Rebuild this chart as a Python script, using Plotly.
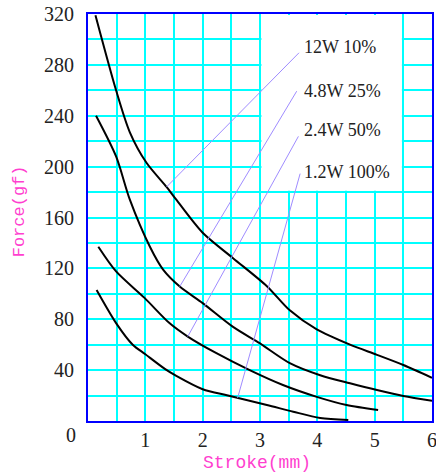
import numpy as np
import plotly.graph_objects as go

# ---- data ----
series_names = ["12W 10%", "4.8W 25%", "2.4W 50%", "1.2W 100%"]

x_12w = [0.13, 0.49, 0.73, 1.02, 1.37, 1.54, 2.0, 2.53, 3.12, 3.52, 3.99, 4.57, 5.04, 5.5, 6.0]
y_12w = [319, 260, 227, 203, 184, 174, 148, 128, 106, 87, 72, 60, 52, 44, 34]

x_48w = [0.14, 0.49, 0.73, 1.08, 1.31, 1.6, 2.0, 2.53, 3.0, 3.52, 4.05, 4.57, 5.04, 5.5, 6.0]
y_48w = [240, 208, 174, 137, 119, 105.7, 92.7, 74, 61, 45.5, 36, 29.7, 24.4, 19.7, 16]

x_24w = [0.18, 0.49, 0.99, 1.42, 1.74, 2.24, 2.82, 3.4, 3.99, 4.51, 5.06]
y_24w = [137, 117.6, 96.6, 77, 66.4, 53.3, 40, 28.3, 19, 12.6, 8.7]

x_12w100 = [0.15, 0.49, 0.78, 1.0, 1.34, 1.54, 2.0, 2.44, 3.12, 3.58, 4.05, 4.54]
y_12w100 = [103, 77, 60, 52.5, 41, 35.5, 25, 20, 12.6, 7.3, 2.4, 0.8]

# label anchor positions and leader-line ends
label_x = [3.73, 3.73, 3.73, 3.73]
label_y = [293.7, 259.8, 229, 196]
leader_top_x = [3.68, 3.64, 3.67, 3.70]
leader_top_y = [289.5, 259.3, 223.8, 194.5]
leader_curve_x = [1.37, 1.60, 1.74, 2.61]

x_tick_vals = [0, 0.5, 1, 1.5, 2, 2.5, 3, 3.5, 4, 4.5, 5, 5.5, 6]
x_tick_text = ["", "", "1", "", "2", "", "3", "", "4", "", "5", "", "6"]
y_tick_vals = list(range(0, 321, 20))
y_tick_text = ["" if (v == 0 or v % 40) else str(v) for v in y_tick_vals]

curves = [(x_12w, y_12w), (x_48w, y_48w), (x_24w, y_24w), (x_12w100, y_12w100)]

fig = go.Figure()
for (xs, ys), name in zip(curves, series_names):
    fig.add_trace(go.Scatter(x=xs, y=ys, mode="lines", name=name,
                             line=dict(color="black", width=2, shape="spline", smoothing=0.8),
                             hoverinfo="skip"))

# white box behind labels (covers grid)
fig.add_shape(type="rect", xref="x", yref="y", x0=3.025, x1=5.475, y0=181, y1=319.2,
              fillcolor="white", line=dict(width=0), layer="above")

LEADER = "#9f8cff"
for i, (xs, ys) in enumerate(curves):
    yc = float(np.interp(leader_curve_x[i], xs, ys))
    fig.add_shape(type="line", xref="x", yref="y",
                  x0=leader_curve_x[i], y0=yc, x1=leader_top_x[i], y1=leader_top_y[i],
                  line=dict(color=LEADER, width=1), layer="above")
    fig.add_annotation(x=label_x[i], y=label_y[i], xref="x", yref="y", text=series_names[i],
                       showarrow=False, xanchor="left", yanchor="middle",
                       font=dict(family="Liberation Serif", size=18, color="#222222"))

MAG = "#ff3fcf"
fig.add_annotation(xref="paper", yref="paper", x=-0.029, y=-0.0344, text="0", showarrow=False,
                   xanchor="right", yanchor="middle",
                   font=dict(family="Liberation Serif", size=20, color="#222222"))
fig.add_annotation(xref="paper", yref="paper", x=0.49, y=-0.103, text="Stroke(mm)", showarrow=False,
                   xanchor="center", yanchor="middle",
                   font=dict(family="Liberation Mono", size=18, color=MAG))
fig.add_annotation(xref="paper", yref="paper", x=-0.198, y=0.515, text="Force(gf)", showarrow=False,
                   textangle=-90, xanchor="center", yanchor="middle",
                   font=dict(family="Liberation Mono", size=17, color=MAG))

axis_common = dict(showgrid=True, gridcolor="#00ffff", gridwidth=2, zeroline=False,
                   showline=True, linecolor="#0000ff", linewidth=2, mirror=True,
                   ticks="", tickfont=dict(family="Liberation Serif", size=20, color="#222222"),
                   automargin=False, ticklabeloverflow="allow")

fig.update_xaxes(range=[0, 6], tickmode="array", tickvals=x_tick_vals, ticktext=x_tick_text,
                 ticklabelstandoff=0, **axis_common)
fig.update_yaxes(range=[0, 320], tickmode="array", tickvals=y_tick_vals, ticktext=y_tick_text,
                 ticklabelstandoff=8, **axis_common)

fig.update_layout(width=436, height=475, margin=dict(l=88, r=4, t=14, b=54),
                  plot_bgcolor="white", paper_bgcolor="white", showlegend=False)

# remove the default 8px page margin so the figure sits at the window's corner
fig.write_html("out.html", config={"displayModeBar": False},
               post_script="document.body.style.margin='0px';")
